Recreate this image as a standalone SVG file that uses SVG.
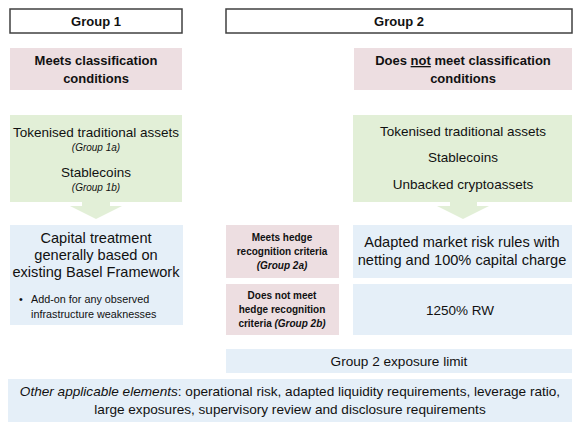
<svg xmlns="http://www.w3.org/2000/svg" width="582" height="429" viewBox="0 0 582 429">
<style>
text{font-family:"Liberation Sans",Arial,sans-serif;fill:#111;text-anchor:middle}
.hdr{fill:#fff;stroke:#404040;stroke-width:1.5}
.pink{fill:#EDDEE1}
.green{fill:#E2EFD7}
.blue{fill:#E5EFF8}
.b{font-weight:bold}
.i{font-style:italic}
.t13{font-size:13px}
.g{font-size:13.5px}
.m{font-size:14.6px}
.t10{font-size:10px}
.s{font-size:10.8px;text-anchor:start}
.o{font-size:13.6px}
.arrow{fill:#E2EFD7}
</style>
<rect width="582" height="429" fill="#fff"/>
<g id="group1-header">
<rect class="hdr" x="10" y="9" width="172" height="24"/>
<text class="b t13" x="96" y="26">Group 1</text>
</g>
<g id="group2-header">
<rect class="hdr" x="226" y="9" width="346" height="24"/>
<text class="b t13" x="399" y="26">Group 2</text>
</g>
<g id="meets">
<rect class="pink" x="10" y="48" width="172" height="42"/>
<text class="b t13" x="96" y="65">Meets classification</text>
<text class="b t13" x="96" y="83">conditions</text>
</g>
<g id="not-meets">
<rect class="pink" x="354" y="48" width="218" height="42"/>
<text class="b t13" x="463" y="65">Does <tspan text-decoration="underline">not</tspan> meet classification</text>
<text class="b t13" x="463" y="83">conditions</text>
</g>
<g id="group1-assets">
<rect class="green" x="10" y="115" width="172" height="87"/>
<text class="g" x="96" y="137">Tokenised traditional assets</text>
<text class="i t10" x="96" y="151">(Group 1a)</text>
<text class="g" x="96" y="177">Stablecoins</text>
<text class="i t10" x="96" y="191">(Group 1b)</text>
</g>
<g id="group2-assets">
<rect class="green" x="353" y="115" width="219" height="87"/>
<text class="g" x="463" y="136">Tokenised traditional assets</text>
<text class="g" x="463" y="162">Stablecoins</text>
<text class="g" x="463" y="189">Unbacked cryptoassets</text>
</g>
<g id="group1-treatment">
<rect class="blue" x="10" y="225" width="173" height="100"/>
<text class="m" x="96" y="243">Capital treatment</text>
<text class="m" x="96" y="260">generally based on</text>
<text class="m" x="96" y="277">existing Basel Framework</text>
<text class="s" x="19" y="303">•</text>
<text class="s" x="31" y="303">Add-on for any observed</text>
<text class="s" x="31" y="318">infrastructure weaknesses</text>
</g>
<g id="group2a">
<rect class="pink" x="226" y="225" width="113" height="53"/>
<text class="b t10" x="282" y="241">Meets hedge</text>
<text class="b t10" x="282" y="255">recognition criteria</text>
<text class="b i t10" x="282" y="269">(Group 2a)</text>
</g>
<g id="group2b">
<rect class="pink" x="226" y="284" width="113" height="51"/>
<text class="b t10" x="282" y="299">Does not meet</text>
<text class="b t10" x="282" y="313">hedge recognition</text>
<text class="b t10" x="282" y="327">criteria <tspan class="i">(Group 2b)</tspan></text>
</g>
<g id="group2a-treatment">
<rect class="blue" x="353" y="225" width="219" height="53"/>
<text class="m" x="462" y="247">Adapted market risk rules with</text>
<text class="m" x="462" y="265">netting and 100% capital charge</text>
</g>
<g id="group2b-treatment">
<rect class="blue" x="353" y="284" width="219" height="51"/>
<text class="g" x="460" y="315">1250% RW</text>
</g>
<g id="exposure-limit">
<rect class="blue" x="226" y="349" width="346" height="24"/>
<text class="o" x="399" y="366">Group 2 exposure limit</text>
</g>
<g id="other-elements">
<rect class="blue" x="8" y="379" width="564" height="43"/>
<text class="o" x="290" y="396"><tspan class="i">Other applicable elements</tspan>: operational risk, adapted liquidity requirements, leverage ratio,</text>
<text class="o" x="290" y="414">large exposures, supervisory review and disclosure requirements</text>
</g>
<g id="connectors">
<path class="arrow" d="M82,202 H110 V206 H122 L96,219 L70,206 H82 Z"/>
<path class="arrow" d="M450,202 H477 V206 H489 L463,219 L437,206 H450 Z"/>
</g>
</svg>
